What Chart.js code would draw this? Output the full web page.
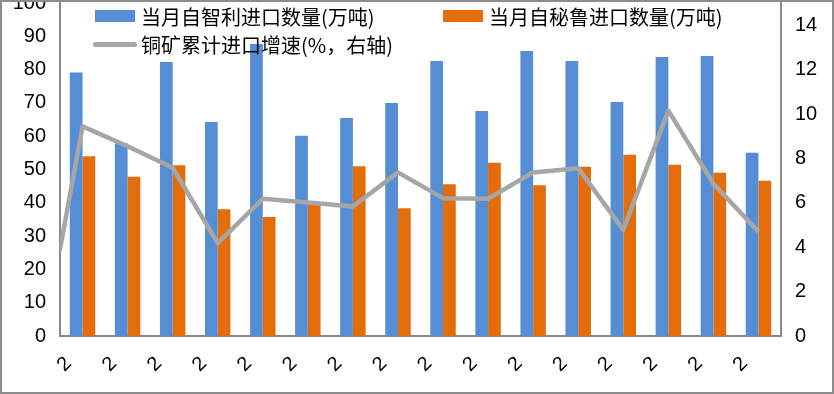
<!DOCTYPE html>
<html>
<head>
<meta charset="utf-8">
<script src="https://cdn.jsdelivr.net/npm/chart.js@4.4.1/dist/chart.umd.min.js"></script>
<style>
    html, body { margin: 0; padding: 0; background: #fff; }
    #wrap { position: relative; width: 834px; height: 394px; overflow: hidden; background: #fff; }
    #box { position: absolute; left: 0; top: -9px; width: 834px; height: 403px; }
    #frame { position: absolute; left: 0; top: 0; right: 0; bottom: 0; border: 2px solid #8c8c8c; pointer-events: none; }
    .lg { position: absolute; display: flex; align-items: center; height: 24px;
          font-family: 'Noto Sans CJK SC', sans-serif; font-size: 20px; color: #000; white-space: nowrap; }
    .sw { display: inline-block; width: 40px; height: 12px; margin-right: 6px; }
    .ln { display: inline-block; width: 44px; height: 5px; border-radius: 3px; margin-right: 4px; }
</style>
</head>
<body>
<div id="wrap">
    <div id="box"><canvas id="chart-copper"></canvas></div>
    <div id="legend"></div>
    <div id="frame"></div>
</div>
<script>
// Copper ore imports from Chile / Peru with cumulative growth line
const categories = ['2', '2', '2', '2', '2', '2', '2', '2', '2', '2', '2', '2', '2', '2', '2', '2'];
const chileImports = [79.1, 57.9, 82.3, 64.3, 87.7, 60.1, 65.5, 70.0, 82.6, 67.6, 85.6, 82.6, 70.3, 83.8, 84.1, 55.0];
const peruImports = [54.0, 47.8, 51.3, 38.1, 35.7, 39.8, 51.0, 38.4, 45.6, 52.0, 45.3, 50.8, 54.4, 51.4, 49.0, 46.6];
const growthRate = [9.44, 8.55, 7.58, 4.18, 6.18, 6.01, 5.83, 7.37, 6.21, 6.18, 7.37, 7.56, 4.78, 10.15, 6.86, 4.70];
const growthAtLeftEdge = 3.9;   // the line enters from the plot's left edge
const seriesLabels = ['当月自智利进口数量(万吨)', '当月自秘鲁进口数量(万吨)', '铜矿累计进口增速(%，右轴)'];

const BLUE = '#558ed5';
const ORANGE = '#e46c0a';
const GREY = '#a6a6a6';
const AXIS = '#898989';
const LINE_W = 4.5;
const TICK_FONT = { family: "'Liberation Sans', 'Noto Sans CJK SC', sans-serif", size: 20 };

// segment from the left edge of the plot into the first point of the growth line
const edgeSegment = {
    id: 'edgeSegment',
    afterDatasetsDraw(chart) {
        const { ctx, chartArea, scales } = chart;
        const y1 = scales.y1;
        ctx.save();
        ctx.beginPath();
        ctx.rect(chartArea.left, chartArea.top, chartArea.right - chartArea.left, chartArea.bottom - chartArea.top);
        ctx.clip();
        ctx.strokeStyle = GREY;
        ctx.lineWidth = LINE_W;
        ctx.lineCap = 'round';
        ctx.lineJoin = 'round';
        ctx.beginPath();
        ctx.moveTo(chartArea.left, y1.getPixelForValue(growthAtLeftEdge));
        ctx.lineTo(scales.x.getPixelForValue(0), y1.getPixelForValue(growthRate[0]));
        ctx.stroke();
        ctx.restore();
    },
};

const ctx = document.getElementById('chart-copper').getContext('2d');
const chart = new Chart(ctx, {
    type: 'bar',
    data: {
        labels: categories,
        datasets: [
            {
                label: seriesLabels[0],
                data: chileImports,
                backgroundColor: BLUE,
                yAxisID: 'y',
                categoryPercentage: 0.565,
                barPercentage: 1.0,
                order: 1,
            },
            {
                label: seriesLabels[1],
                data: peruImports,
                backgroundColor: ORANGE,
                yAxisID: 'y',
                categoryPercentage: 0.565,
                barPercentage: 1.0,
                order: 1,
            },
            {
                type: 'line',
                label: seriesLabels[2],
                data: growthRate,
                borderColor: GREY,
                backgroundColor: GREY,
                borderWidth: LINE_W,
                pointRadius: 0,
                tension: 0,
                borderJoinStyle: 'round',
                yAxisID: 'y1',
                order: 0,
            },
        ],
    },
    options: {
        responsive: true,
        maintainAspectRatio: false,
        animation: false,
        layout: { padding: 0 },
        scales: {
            x: {
                offset: true,
                grid: { display: false, drawTicks: false },
                border: { color: AXIS, width: 2 },
                ticks: { color: '#000', font: TICK_FONT, minRotation: 45, maxRotation: 45, padding: 16, labelOffset: -14, autoSkip: false },
                afterFit: s => { s.height = 58; },
            },
            y: {
                position: 'left',
                min: 0,
                max: 100,
                grid: { display: false, drawTicks: false },
                border: { color: AXIS, width: 2 },
                ticks: { stepSize: 10, color: '#000', font: TICK_FONT, padding: 14 },
                afterFit: s => { s.width = 60; s.paddingTop = 12; s.paddingBottom = 0; },
            },
            y1: {
                position: 'right',
                min: 0,
                max: 15,
                grid: { display: false, drawTicks: false },
                border: { color: AXIS, width: 2 },
                ticks: { stepSize: 2, includeBounds: false, color: '#000', font: TICK_FONT, padding: 14 },
                afterFit: s => { s.width = 53; s.paddingTop = 12; s.paddingBottom = 0; },
            },
        },
        plugins: {
            legend: { display: false },
            tooltip: { enabled: false },
        },
    },
    plugins: [edgeSegment],
});

// HTML legend laid out like the original (two rows inside the plot)
const legendSpots = [
    { left: 95, top: 4, mark: 'sw' },
    { left: 443, top: 4, mark: 'sw' },
    { left: 93, top: 32, mark: 'ln' },
];
const legendEl = document.getElementById('legend');
chart.data.datasets.forEach((ds, i) => {
    const spot = legendSpots[i];
    const item = document.createElement('div');
    item.className = 'lg';
    item.style.left = spot.left + 'px';
    item.style.top = spot.top + 'px';
    const mark = document.createElement('span');
    mark.className = spot.mark;
    mark.style.background = ds.type === 'line' ? ds.borderColor : ds.backgroundColor;
    const txt = document.createElement('span');
    txt.textContent = ds.label;
    item.appendChild(mark);
    item.appendChild(txt);
    legendEl.appendChild(item);
});
</script>
</body>
</html>
